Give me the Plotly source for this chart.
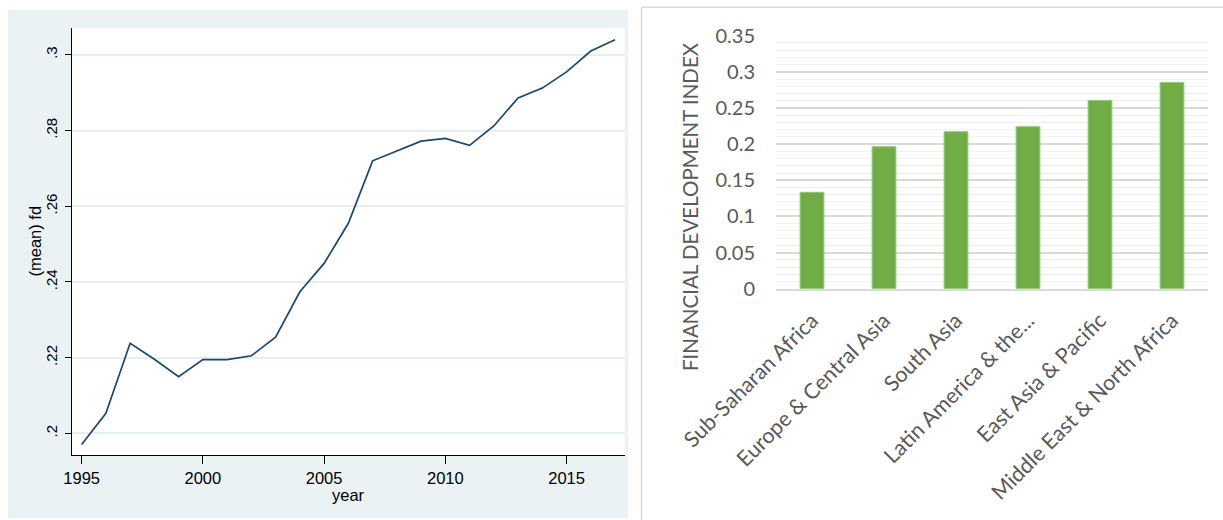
import plotly.graph_objects as go

W, H = 1223, 520

# ---------------- data: left panel (line) ----------------
years = list(range(1995, 2018))
fd_mean = [0.1971, 0.2053, 0.2238, 0.2196, 0.2150, 0.2195, 0.2195, 0.2205,
           0.2254, 0.2374, 0.2449, 0.2555, 0.2720, 0.2746, 0.2772, 0.2779,
           0.2761, 0.2812, 0.2886, 0.2912, 0.2955, 0.3010, 0.3040]
year_ticks = [1995, 2000, 2005, 2010, 2015]
fd_ticks = [0.2, 0.22, 0.24, 0.26, 0.28, 0.3]
fd_ticktext = [".2", ".22", ".24", ".26", ".28", ".3"]

# ---------------- data: right panel (bars) ----------------
regions = ["Sub-Saharan Africa", "Europe & Central Asia", "South Asia",
           "Latin America & the...", "East Asia & Pacific",
           "Middle East & North Africa"]
fdi_values = [0.1333, 0.1964, 0.2172, 0.2241, 0.2605, 0.2854]


def px_x(p):
    return p / W


def px_y(p):
    return 1 - p / H


fig = go.Figure()

fig.add_trace(go.Scatter(
    x=years, y=fd_mean, mode="lines",
    line=dict(color="#1a476f", width=1.7),
    xaxis="x", yaxis="y", showlegend=False, hoverinfo="x+y"))

fig.add_trace(go.Bar(
    x=regions, y=fdi_values,
    marker=dict(color="#70ad47", line=dict(color="#94c675", width=1)),
    xaxis="x2", yaxis="y2", showlegend=False))

SF = "Liberation Sans, Arial, sans-serif"
EF = "Lato, Open Sans, sans-serif"
stata_font = dict(family=SF, size=16.5, color="#000000")
stata_yfont = dict(family=SF, size=15, color="#000000")
excel_font = dict(family=EF, size=20, color="#595959")
excel_cat_font = dict(family=EF, size=21.5, color="#595959")

fig.update_layout(
    width=W, height=H,
    margin=dict(l=0, r=0, t=0, b=0, autoexpand=False),
    paper_bgcolor="#ffffff",
    plot_bgcolor="#ffffff",
    bargap=0.67,
    xaxis=dict(
        domain=[px_x(71.7), px_x(625)],
        range=[1994.59, 2017.41],
        tickvals=year_ticks,
        ticks="outside", ticklen=8, tickcolor="#000000", tickwidth=1,
        showline=True, linecolor="#000000", linewidth=1,
        showgrid=False, zeroline=False,
        tickfont=stata_font,
        anchor="y", automargin=False,
    ),
    yaxis=dict(
        domain=[px_y(455), px_y(28.3)],
        range=[0.1943, 0.3070],
        tickvals=fd_ticks, ticktext=fd_ticktext,
        tickangle=-90,
        ticks="outside", ticklen=6, tickcolor="#000000", tickwidth=1,
        ticklabelstandoff=2,
        showline=True, linecolor="#000000", linewidth=1,
        showgrid=True, gridcolor="#e6eef0", gridwidth=1.5,
        zeroline=False,
        tickfont=stata_yfont,
        anchor="x", automargin=False,
    ),
    xaxis2=dict(
        domain=[px_x(776), px_x(1208)],
        type="category",
        tickangle=-45,
        ticks="",
        ticklabelstandoff=9,
        showline=True, linecolor="#d9d9d9", linewidth=1.5,
        showgrid=False, zeroline=False,
        tickfont=excel_cat_font,
        anchor="y2", automargin=False,
    ),
    yaxis2=dict(
        domain=[px_y(288.7), px_y(35.7)],
        range=[0, 0.35],
        dtick=0.05,
        ticks="",
        ticklabelstandoff=20,
        showline=False,
        showgrid=True, gridcolor="#d9d9d9", gridwidth=1.5,
        minor=dict(dtick=0.01, showgrid=True, gridcolor="#f0f0f0", gridwidth=1),
        zeroline=False,
        tickfont=excel_font,
        anchor="x2", automargin=False,
    ),
    shapes=[
        # Stata graph region background
        dict(type="rect", xref="paper", yref="paper", layer="below",
             x0=px_x(8), x1=px_x(628), y0=px_y(518), y1=px_y(10),
             fillcolor="#eaf2f3", line=dict(width=0)),
        # white plot region
        dict(type="rect", xref="paper", yref="paper", layer="below",
             x0=px_x(71.7), x1=px_x(625), y0=px_y(455), y1=px_y(28.3),
             fillcolor="#ffffff", line=dict(width=0)),
        # Excel chart border
        dict(type="rect", xref="paper", yref="paper", layer="below",
             x0=px_x(641.5), x1=px_x(1240), y0=px_y(540), y1=px_y(7.3),
             fillcolor="rgba(0,0,0,0)", line=dict(color="#d9d9d9", width=1.5)),
    ],
    annotations=[
        dict(text="(mean) fd", xref="paper", yref="paper",
             x=px_x(34.5), y=px_y(241), textangle=-90, showarrow=False,
             xanchor="center", yanchor="middle",
             font=dict(family=SF, size=16.5, color="#000000")),
        dict(text="year", xref="paper", yref="paper",
             x=px_x(348), y=px_y(495), showarrow=False,
             xanchor="center", yanchor="middle", font=stata_font),
        dict(text="FINANCIAL DEVELOPMENT INDEX", xref="paper", yref="paper",
             x=px_x(690), y=px_y(206), textangle=-90, showarrow=False,
             xanchor="center", yanchor="middle",
             font=dict(family=EF, size=20.5, color="#595959")),
    ],
)

fig.write_html("out.html",
               config={"displayModeBar": False},
               post_script="document.body.style.margin='0px';"
                           "document.body.style.overflow='hidden';")
